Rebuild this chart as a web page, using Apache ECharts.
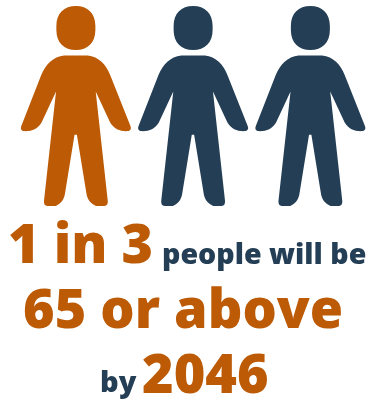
<!DOCTYPE html>
<html>
<head>
<meta charset="utf-8">
<script src="https://cdn.jsdelivr.net/npm/echarts@6/dist/echarts.min.js"></script>
<style>
html,body{margin:0;padding:0;background:#fff}
#chart{width:369px;height:400px}
</style>
</head>
<body>
<div id="chart"></div>
<script>
// One figure per person in a group of three; the first stands for the over-65s.
const people = ['65 or above', 'Under 65 (a)', 'Under 65 (b)'];
const counts = [1, 1, 1];
const figureColors = ['#BC5A05', '#243F55', '#243F55'];
const orange = '#BC5A05';
const navy = '#243F55';

const personPath = 'path://M172 78C172 40 195 18 230 18C265 18 288 40 288 78L288 90C288 128 265 150 230 150C195 150 172 128 172 90Z' +
  'M195 167L265 167C298 170 320 195 332 225L392 378C396 388 392 393 385 394C360 395 345 388 332 368L289 275' +
  'L325 605C325 614 322 619 315 619L290 619C275 612 265 600 262 585L233 405L226 405L197 585C194 600 185 612 170 619L145 619' +
  'C138 619 135 614 135 605L171 275L128 368C115 388 100 395 75 394C68 393 64 388 68 378L127 225C140 195 162 170 195 167Z';

const lines = [
  { text: '1 in 3', x: 8, y: 275, size: 54, color: orange },
  { text: 'people will be', x: 162, y: 270, size: 28.6, color: navy },
  { text: '65 or above', x: 23, y: 340, size: 54, color: orange },
  { text: 'by', x: 100, y: 398, size: 29, color: navy },
  { text: '2046', x: 142, y: 405, size: 54, color: orange }
];

const chart = echarts.init(document.getElementById('chart'), null, { renderer: 'canvas' });
chart.setOption({
  animation: false,
  grid: { left: 17.25, top: 6, width: 355.5, height: 200 },
  xAxis: { type: 'category', data: people, show: false },
  yAxis: { type: 'value', min: 0, max: 1, show: false },
  series: [{
    type: 'pictorialBar',
    data: counts.map((v, i) => ({ value: v, itemStyle: { color: figureColors[i] } })),
    symbol: personPath,
    symbolSize: [110, 200],
    symbolPosition: 'start'
  }],
  graphic: lines.map(l => ({
    type: 'text',
    x: l.x,
    y: l.y,
    style: {
      text: l.text,
      fill: l.color,
      font: '800 ' + l.size + 'px "Open Sans"',
      textVerticalAlign: 'bottom'
    }
  }))
});
</script>
</body>
</html>
